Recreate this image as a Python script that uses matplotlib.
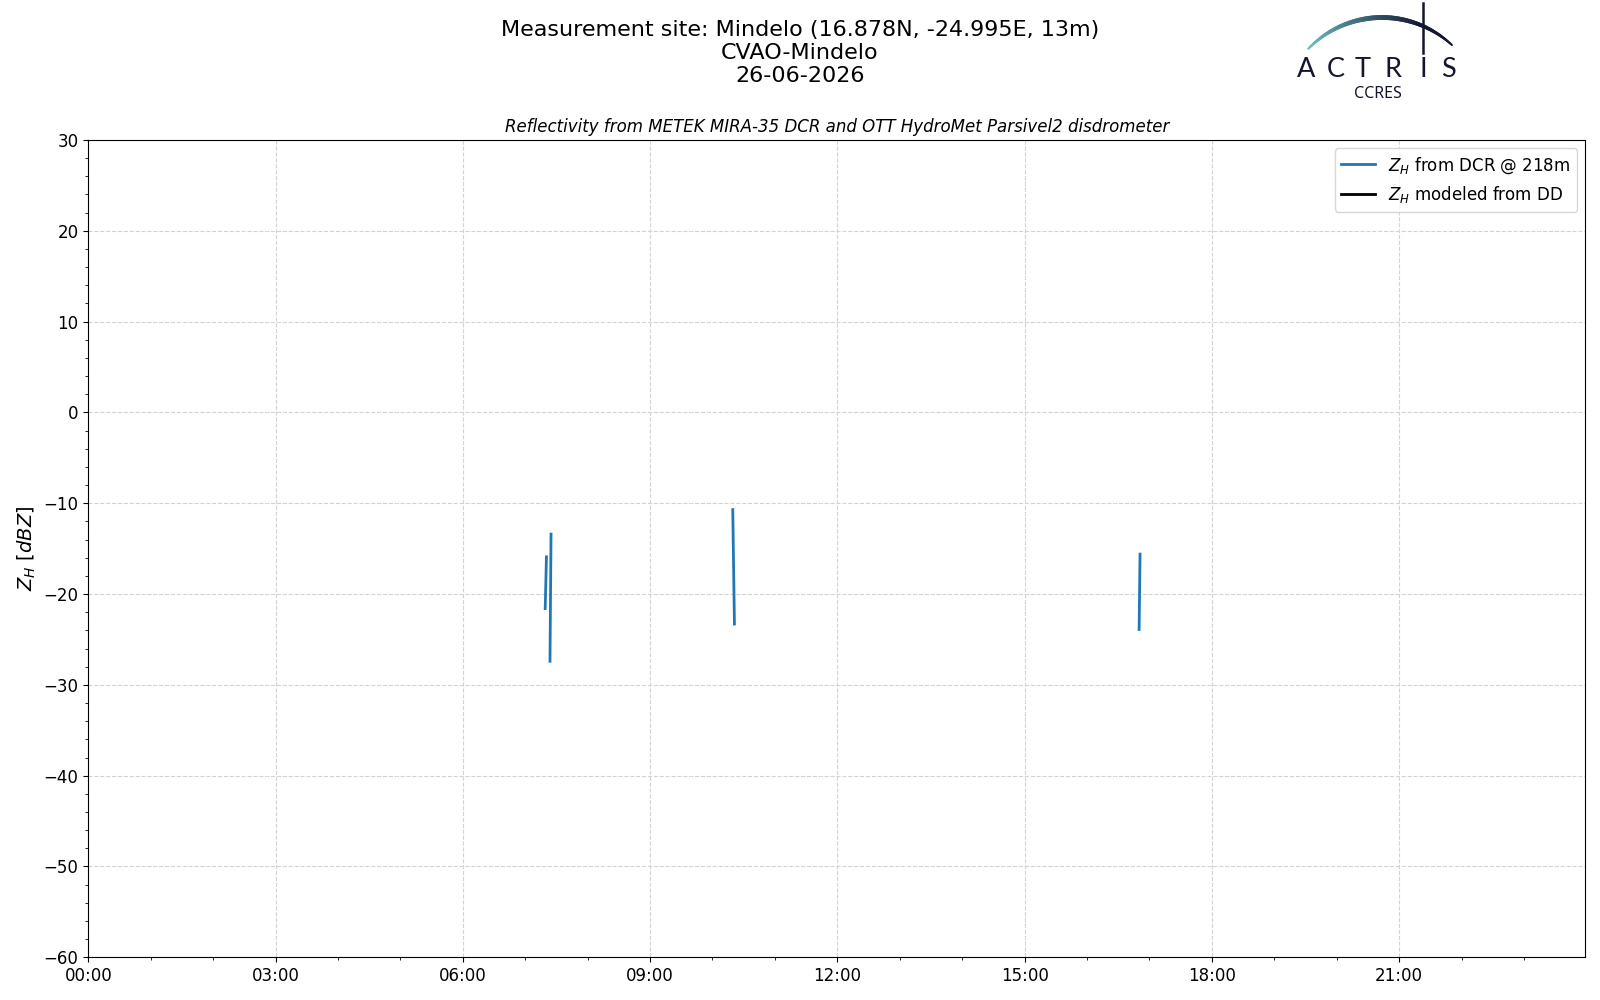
import numpy as np
import matplotlib
matplotlib.use("Agg")
import matplotlib.pyplot as plt
import matplotlib.dates as mdates
from matplotlib.collections import LineCollection
from datetime import datetime, timedelta

# Data (minutes after midnight, reflectivity in dBZ); NaN separates the gaps
day = datetime(2026, 6, 26)
dcr_minutes = [439.2, 440.4, np.nan, 443.8, 444.8, np.nan, 619.5, 621.1, np.nan, 1010.1, 1011.0]
dcr_zh = [-21.6, -15.9, np.nan, -27.4, -13.4, np.nan, -10.7, -23.3, np.nan, -23.9, -15.6]
dd_minutes = []
dd_zh = []

site = "Mindelo (16.878N, -24.995E, 13m)"
station = "CVAO-Mindelo"
date_str = "26-06-2026"
radar_height = 218


def to_num(minutes):
    return [mdates.date2num(day + timedelta(minutes=float(m))) if not np.isnan(m) else np.nan
            for m in minutes]


fig = plt.figure(figsize=(16, 10), dpi=100)
ax = fig.add_axes([88.3 / 1600, 0.0427, 1497 / 1600, 0.8173])

ax.plot(to_num(dcr_minutes), dcr_zh, color="tab:blue", lw=2,
        label=r"$Z_H$ from DCR @ %dm" % radar_height)
ax.plot(to_num(dd_minutes), dd_zh, color="black", lw=2, label=r"$Z_H$ modeled from DD")

ax.set_xlim(mdates.date2num(day), mdates.date2num(day + timedelta(minutes=1439)))
ax.set_ylim(-60, 30)
ax.xaxis.set_major_locator(mdates.HourLocator(byhour=range(0, 24, 3)))
ax.xaxis.set_minor_locator(mdates.HourLocator())
ax.xaxis.set_major_formatter(mdates.DateFormatter("%H:%M"))
ax.yaxis.set_major_locator(plt.MultipleLocator(10))
ax.yaxis.set_minor_locator(plt.MultipleLocator(2))
ax.tick_params(labelsize=12)
ax.grid(True, which="major", ls="--", color="lightgray")
ax.set_ylabel(r"$Z_H$ [$dBZ$]", fontsize=14)
ax.set_title("Reflectivity from METEK MIRA-35 DCR and OTT HydroMet Parsivel2 disdrometer",
             fontsize=12, style="italic")
ax.legend(loc="upper right", fontsize=12)

fig.text(0.5, 0.98, "Measurement site: %s\n%s\n%s" % (site, station, date_str),
         ha="center", va="top", fontsize=16)

# ACTRIS / CCRES logo drawn in pixel coordinates
lax = fig.add_axes([1280 / 1600, 1 - 105 / 1000, 190 / 1600, 105 / 1000])
lax.set_xlim(1280, 1470)
lax.set_ylim(105, 0)
lax.axis("off")

theta = np.linspace(np.radians(136), np.radians(47), 100)
cx, cy, r = 1382, 120, 102.5
pts = np.column_stack([cx + r * np.cos(theta), cy - r * np.sin(theta)]).reshape(-1, 1, 2)
segs = np.concatenate([pts[:-1], pts[1:]], axis=1)
frac = np.linspace(0, 1, len(segs))
c0 = np.array([0.42, 0.76, 0.76])
c1 = np.array([0.08, 0.09, 0.20])
cols = [tuple(c0 + (c1 - c0) * min(1, f * 1.3)) for f in frac]
widths = 0.9 + 2.6 * np.sin(np.pi * np.clip(frac * 0.85 + 0.08, 0, 1))
lax.add_collection(LineCollection(segs, colors=cols, linewidths=widths, capstyle="round"))
lax.plot([1423, 1423], [3, 53], color="#14162e", lw=1.8)

for letter, xpos in zip("ACTRIS", [1306, 1336, 1363, 1393, 1423, 1448]):
    lax.text(xpos, 77, letter, ha="center", va="baseline", fontsize=19.5,
             family="Lato", color="#14162e")
lax.text(1378, 98, "CCRES", ha="center", va="baseline", fontsize=11.5,
         family="Noto Sans", color="#14162e")

fig.savefig("out.png", dpi=100)
